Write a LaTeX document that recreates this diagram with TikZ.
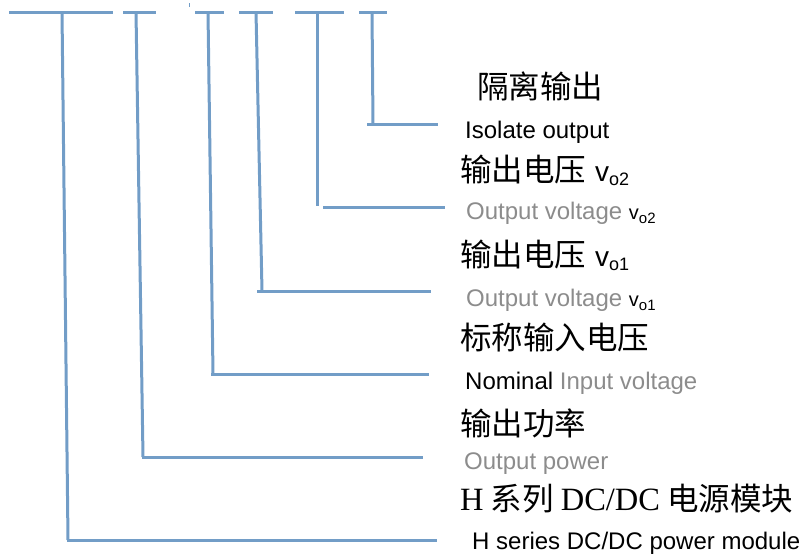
\documentclass[tikz,border=0pt]{standalone}
\usepackage{fontspec}
\setmainfont{Liberation Sans}
\newfontfamily\cjk{Noto Sans CJK SC}
\newfontfamily\tms{Liberation Serif}
\definecolor{lineblue}{RGB}{114,157,199}
\definecolor{txtgray}{RGB}{140,140,140}
\newcommand\vsub[3]{{\normalfont\color{black}\fontsize{#1}{#1}\selectfont v\raisebox{-4pt}{\fontsize{#2}{#2}\selectfont #3}}}
\tikzset{
  conn/.style={draw=lineblue, line width=3pt},
  zh/.style={anchor=base west, inner sep=0pt, font=\cjk\fontsize{31.5}{34}\selectfont},
  en/.style={anchor=base west, inner sep=0pt, font=\fontsize{24}{28}\selectfont},
  engray/.style={en, text=txtgray},
}
\begin{document}
\begin{tikzpicture}[x=1pt,y=-1pt]
\useasboundingbox (0,0) rectangle (805,557);

% top bars
\coordinate (b1l) at (9,12);   \coordinate (b1r) at (113,12);
\coordinate (b2l) at (123,12); \coordinate (b2r) at (156,12);
\coordinate (b3l) at (195,12); \coordinate (b3r) at (224,12);
\coordinate (b4l) at (239,12); \coordinate (b4r) at (273,12);
\coordinate (b5l) at (295,12); \coordinate (b5r) at (344,12);
\coordinate (b6l) at (359,12); \coordinate (b6r) at (387,12);
% vertical tops
\coordinate (v1t) at (62,12);  \coordinate (v1b) at (68,540);
\coordinate (v2t) at (136,12); \coordinate (v2b) at (143,457);
\coordinate (v3t) at (208,12); \coordinate (v3b) at (213,374);
\coordinate (v4t) at (256,12); \coordinate (v4b) at (262,291);
\coordinate (v5t) at (317,12); \coordinate (v5b) at (317,206);
\coordinate (v6t) at (372,12); \coordinate (v6b) at (373,124);
% horizontal ends
\coordinate (h1s) at (66.5,540); \coordinate (h1e) at (437,540);
\coordinate (h2s) at (141.5,457); \coordinate (h2e) at (423,457);
\coordinate (h3s) at (211,374); \coordinate (h3e) at (429,374);
\coordinate (h4s) at (257,291); \coordinate (h4e) at (431,291);
\coordinate (h5s) at (323,207); \coordinate (h5e) at (445,207);
\coordinate (h6s) at (367,124); \coordinate (h6e) at (438,124);

\foreach \i in {1,...,6}{
  \draw[conn] (b\i l) -- (b\i r);
  \draw[conn] (v\i t) -- (v\i b);
  \draw[conn] (h\i s) -- (h\i e);
}
% tiny tick
\coordinate (tk1) at (189,3); \coordinate (tk2) at (189,6.5);
\draw[draw=lineblue, line width=0.7pt] (tk1) -- (tk2);

% labels
\node[zh] (z6) at (477,98) {隔离输出};
\node[en] (e6) at (465,138) {Isolate output};
\node[zh] (z5) at (460,181) {输出电压\hspace{9pt}\vsub{28}{18}{o2}};
\node[engray] (e5) at (466,219) {Output voltage \vsub{20}{15}{o2}};
\node[zh] (z4) at (460,266) {输出电压\hspace{9pt}\vsub{28}{18}{o1}};
\node[engray] (e4) at (466,306) {Output voltage \vsub{20}{15}{o1}};
\node[zh] (z3) at (460,349) {标称输入电压};
\node[en] (e3) at (465,389) {Nominal {\color{txtgray}Input voltage}};
\node[zh] (z2) at (460,435) {输出功率};
\node[engray] (e2) at (464,469) {Output power};
\node[zh] (z1) at (460,510) {{\tms\fontsize{32.5}{34}\selectfont H} 系列 {\tms\fontsize{32.5}{34}\selectfont DC/DC} 电源模块};
\node[en] (e1) at (472,549) {H series DC/DC power module};
\end{tikzpicture}
\end{document}
